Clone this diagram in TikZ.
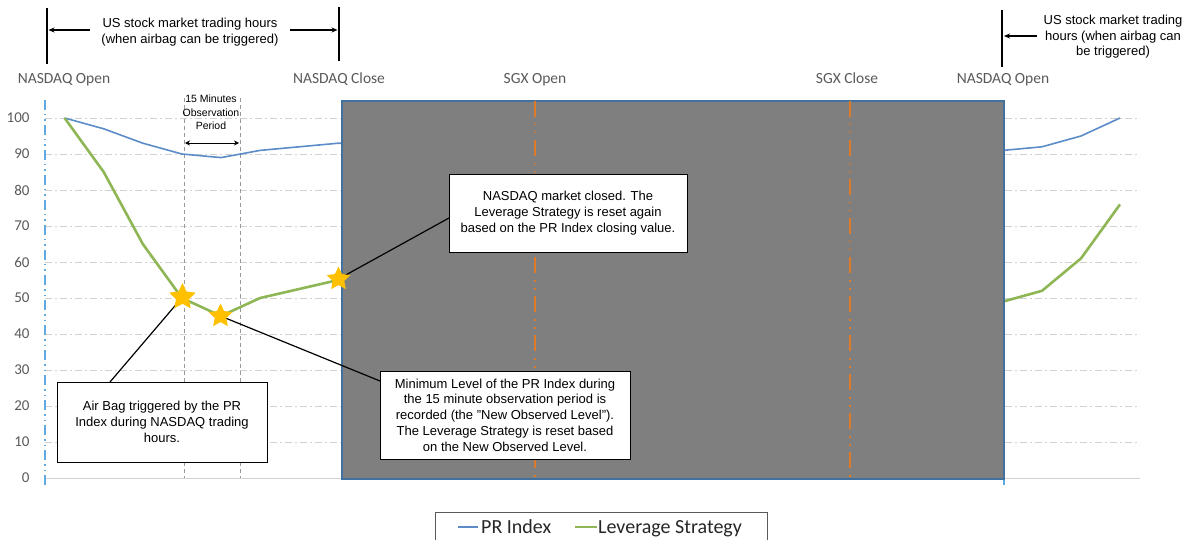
\documentclass[tikz,border=0pt]{standalone}
\usepackage{fontspec}
\setmainfont{Liberation Sans}
\newfontfamily\calibri{Carlito}
\usetikzlibrary{shapes.geometric,arrows.meta}
\definecolor{prblue}{RGB}{91,140,200}
\definecolor{levgreen}{RGB}{143,182,84}
\definecolor{gridgray}{RGB}{210,210,210}
\definecolor{axisblue}{RGB}{95,170,225}
\definecolor{boxfill}{RGB}{127,127,127}
\definecolor{boxedge}{RGB}{65,113,156}
\definecolor{sgxorange}{RGB}{222,122,40}
\definecolor{gold}{RGB}{255,192,0}
\definecolor{labgray}{RGB}{89,89,89}
\tikzset{
  gridline/.style={gridgray, line width=0.8pt, dash pattern=on 7pt off 3pt on 2pt off 3pt},
  axisline/.style={axisblue, line width=1.8pt, dash pattern=on 10pt off 4pt on 1.5pt off 4pt on 1.5pt off 4pt},
  sgxline/.style={sgxorange, line width=2pt, dash pattern=on 16pt off 7pt on 1.5pt off 6.5pt on 1.5pt off 6.5pt},
  obsline/.style={gray!80, line width=0.6pt, dash pattern=on 4pt off 3pt},
  prline/.style={prblue, line width=1.6pt, line join=round},
  levline/.style={levgreen, line width=2.6pt, line join=round},
  startag/.style={star, star points=5, star point ratio=2.05, fill=gold, draw=none, inner sep=0pt},
  callout/.style={draw=black, fill=white, line width=0.8pt, align=center, inner sep=0pt,
    font=\fontsize{13}{15.8}\selectfont},
  lead/.style={black, line width=1.2pt},
  ticklab/.style={labgray, anchor=east, font=\calibri\fontsize{15}{15}\selectfont},
  evlab/.style={labgray, anchor=base, inner sep=0pt, font=\calibri\fontsize{15.5}{15.5}\selectfont},
  note/.style={align=center, font=\fontsize{13}{16}\selectfont},
  tickbar/.style={black, line width=1.6pt},
  harrow/.style={black, line width=1.2pt, -{Stealth[length=6pt,width=5pt]}},
  legtext/.style={anchor=base west, inner sep=0pt, font=\calibri\fontsize{20}{20}\selectfont, text=black!85},
}
\begin{document}
\begin{tikzpicture}[x=1pt,y=-1pt]
\useasboundingbox (0,0) rectangle (1189,540);
\clip (0,0) rectangle (1189,540);
% grid
\foreach \v in {10,20,...,100}{
  \draw[gridline] (45,{478-3.6*\v}) -- (1140,{478-3.6*\v});
}
\draw[gridgray, line width=1pt] (45,478) -- (1140,478);
% y labels
\foreach \v in {0,10,...,100}{
  \node[ticklab] (y\v) at (33,{478-3.6*\v}) {\v};
}
% axis blue dash-dot verticals
\draw[axisline] (45,100) -- (45,486);
\draw[axisline] (1004,100) -- (1004,486);
% observation period lines
\draw[obsline] (184,98) -- (184,478);
\draw[obsline] (240,98) -- (240,478);
% data lines
\draw[prline] (64.6,118) -- (103.7,128.8) -- (142.8,143.2) -- (181.9,154) -- (221,157.6) -- (260.1,150.4) -- (299.2,146.8) -- (338.3,143.2) -- (1003,150.4) -- (1042,146.8) -- (1081,136) -- (1120,118);
\draw[levline] (64.6,118) -- (103.7,172) -- (142.8,244) -- (181.9,298) -- (221,316) -- (260.1,298) -- (299.2,289) -- (338.3,280) -- (1003,301.6) -- (1042,290.8) -- (1081,258.4) -- (1120,204.4);
% closed market box
\node[draw=boxedge, fill=boxfill, line width=2pt, minimum width=662pt, minimum height=378pt, inner sep=0pt, anchor=north west] (closed) at (341,100) {};
% SGX lines
\draw[sgxline] (535,101) -- (535,477);
\draw[sgxline] (850,101) -- (850,477);
% event labels
\node[evlab] (nopen1) at (64,84) {NASDAQ Open};
\node[evlab] (nclose) at (339,84) {NASDAQ Close};
\node[evlab] (sopen) at (535,84) {SGX Open};
\node[evlab] (sclose) at (847,84) {SGX Close};
\node[evlab] (nopen2) at (1003,84) {NASDAQ Open};
% top annotations
\coordinate (tl1) at (47,8); \coordinate (tl2) at (47,64);
\coordinate (tr1) at (339,7); \coordinate (tr2) at (339,61);
\draw[tickbar] (tl1) -- (tl2);
\draw[tickbar] (tr1) -- (tr2);
\node[note] (ushours) at (190,32) {US stock market trading hours\\(when airbag can be triggered)};
\draw[harrow] (ushours.west) ++(-8,-2) coordinate (ha1) -- (48.5,30);
\draw[harrow] (ushours.east) ++(8,-2) coordinate (ha2) -- (337.5,30);
\coordinate (rt1) at (1002,10); \coordinate (rt2) at (1002,67);
\draw[tickbar] (rt1) -- (rt2);
\node[note, font=\fontsize{13}{15.5}\selectfont] (ushours2) at (1113,37) {US stock market trading\\hours (when airbag can\\be triggered)};
\coordinate (ra1) at (1037,36);
\draw[harrow] (ra1) -- (1004,36);
% observation period label
\node[align=center, font=\fontsize{10.5}{13.5}\selectfont] (obs) at (211,112.5) {15 Minutes\\Observation\\Period};
\coordinate (oa) at (185,143); \coordinate (ob) at (239,143);
\draw[black, line width=0.8pt, {Stealth[length=5pt,width=5pt]}-{Stealth[length=5pt,width=5pt]}] (oa) -- (ob);
% callout boxes
\node[callout, minimum width=210pt, minimum height=80pt] (cbA) at (162,422) {Air Bag triggered by the PR\\Index during NASDAQ trading\\hours.};
\node[callout, minimum width=250pt, minimum height=88pt] (cbB) at (505,415) {Minimum Level of the PR Index during\\the 15 minute observation period is\\recorded (the "New Observed Level").\\The Leverage Strategy is reset based\\on the New Observed Level.};
\node[callout, minimum width=238pt, minimum height=78pt] (cbC) at (568,213) {NASDAQ market closed. The\\Leverage Strategy is reset again\\based on the PR Index closing value.};
% star positions and leaders
\coordinate (p1) at (182.5,297);
\coordinate (p2) at (220.5,316);
\coordinate (p3) at (338.5,279);
\coordinate (ea) at (110,382);
\coordinate (eb) at (380,381);
\coordinate (ec) at (449,218);
\draw[lead] (p1) -- (ea);
\draw[lead] (p2) -- (eb);
\draw[lead] (p3) -- (ec);
\node[startag, minimum size=28pt] (s1) at (p1) {};
\node[startag, minimum size=25pt] (s2) at (p2) {};
\node[startag, minimum size=25pt] (s3) at (p3) {};
% legend
\node[draw=gray!70!black, line width=0.8pt, minimum width=332pt, minimum height=36pt, anchor=north west, inner sep=0pt] (legend) at (435,512) {};
\coordinate (lb1) at (458,527); \coordinate (lb2) at (478,527);
\coordinate (lg1) at (575,527); \coordinate (lg2) at (597,527);
\draw[prblue, line width=1.6pt] (lb1) -- (lb2);
\draw[levgreen, line width=2.6pt] (lg1) -- (lg2);
\node[legtext] (lpr) at (481,533) {PR Index};
\node[legtext] (llev) at (598,533) {Leverage Strategy};
\end{tikzpicture}
\end{document}
